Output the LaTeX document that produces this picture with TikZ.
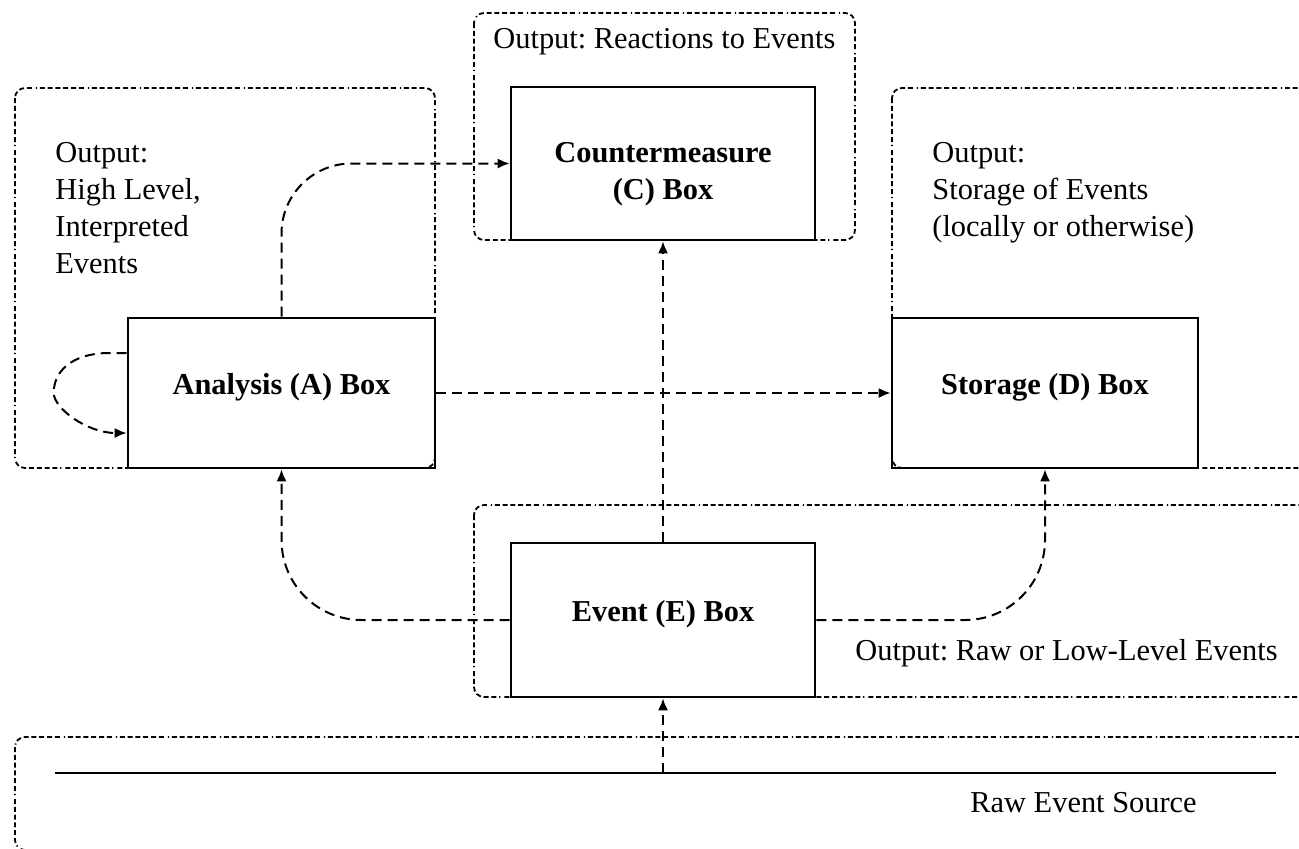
\documentclass[tikz,border=0pt]{standalone}
\usepackage{fontspec}
\setmainfont{Liberation Serif}
\usetikzlibrary{arrows.meta,calc}
\begin{document}
\frenchspacing
\begin{tikzpicture}[x=0.5pt,y=-0.5pt,
  box/.style={draw,line width=1.3pt,minimum width=#1,minimum height=75pt,inner sep=0pt,
    font=\fontsize{15.2}{18.5}\selectfont\bfseries,text height=8pt,text depth=7pt},
  region/.style={line width=0.9pt,rounded corners=5pt,
    dash pattern=on 2.5pt off 1.4pt on 2.5pt off 1.4pt on 2.5pt off 1.4pt on 2.5pt off 1.4pt on 2.5pt off 1.4pt on 2.5pt off 1.4pt on 0.6pt off 2pt},
  conn/.style={line width=1pt,dash pattern=on 5pt off 3pt,-{Latex[length=6pt,width=5pt]}},
  lbl/.style={font=\fontsize{15.2}{18.5}\selectfont,inner sep=0pt},
  boldlbl/.style={font=\fontsize{15.2}{18.5}\selectfont\bfseries,inner sep=0pt}
]
\useasboundingbox (0,0) rectangle (1299,848);
\clip (0,0) rectangle (1299,848);
% regions
\draw[region] (15,88) rectangle (435,468);
\draw[region] (474,13) rectangle (855,240);
\draw[region] (892,88) rectangle (1340,468);
\draw[region] (474,505) rectangle (1340,697);
\draw[region] (15,737) rectangle (1340,850);
% boxes
\node[box=153.5pt] (A) at (281.5,393) {Analysis (A) Box};
\node[box=152pt,minimum height=76.5pt] (C) at (663,163.5) {};
\node[boldlbl,align=center,anchor=north] (ctext) at (663,142) {Countermeasure\\(C) Box};
\node[box=153pt] (D) at (1045,393) {Storage (D) Box};
\node[box=152pt,minimum height=77pt] (E) at (663,620) {Event (E) Box};
% raw source line
\coordinate (rawL) at (55,773);
\coordinate (rawR) at (1276,773);
\coordinate (rawT) at (663,773);
\draw[line width=1.3pt] (rawL) -- (rawR);
% connectors
\draw[conn] (rawT) -- (E.south);
\draw[conn] (E.north) -- (C.south);
\draw[conn] (A.east) -- (D.west);
\draw[conn,rounded corners=40pt] (E.west) -| (A.south);
\draw[conn,rounded corners=40pt] (E.east) -| (D.south);
\draw[conn,rounded corners=35pt] (A.north) |- (C.west);
\draw[conn] ($(A.west)+(0,-40)$) -- ($(A.west)+(-18,-40)$)
  .. controls ($(A.west)+(-50,-40)$) and ($(A.west)+(-73,-25)$) .. ($(A.west)+(-73,0)$)
  .. controls ($(A.west)+(-73,15)$) and ($(A.west)+(-40,40)$) .. ($(A.west)+(0,40)$);
% labels
\node[lbl,align=left,anchor=north west] (atext) at (55,142) {Output:\\High Level,\\Interpreted\\Events};
\node[lbl,align=left,anchor=north west] (dtext) at (932,142) {Output:\\Storage of Events\\(locally or otherwise)};
\node[lbl,anchor=base west] (ctitle) at (493,48) {Output: Reactions to Events};
\node[lbl,anchor=base west] (etext) at (855,660) {Output: Raw or Low-Level Events};
\node[lbl,anchor=base west] (rtext) at (970,812) {Raw Event Source};
\end{tikzpicture}
\end{document}
